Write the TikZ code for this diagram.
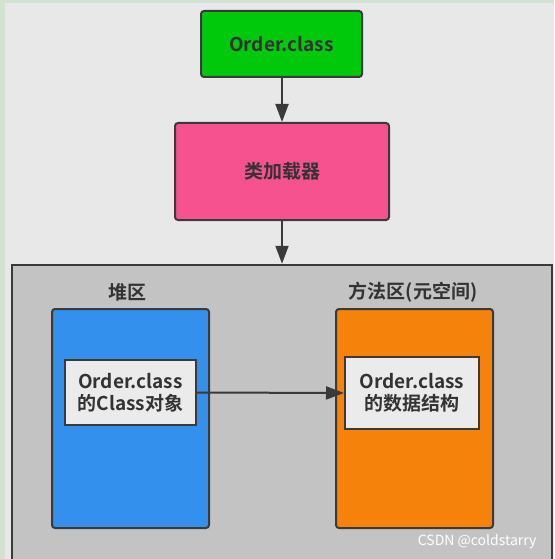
\documentclass[tikz,border=0pt]{standalone}
\usepackage{fontspec}
\setmainfont{Noto Sans CJK SC}[BoldFont={Noto Sans CJK SC Bold}]
\usetikzlibrary{arrows.meta}
\definecolor{bgout}{HTML}{D3E3D1}
\definecolor{bgin}{HTML}{E8E8E8}
\definecolor{edge}{HTML}{3A3A3A}
\definecolor{txt}{HTML}{333333}
\definecolor{cgreen}{HTML}{00C80A}
\definecolor{cpink}{HTML}{F75290}
\definecolor{cgray}{HTML}{C3C3C3}
\definecolor{cblue}{HTML}{3390EC}
\definecolor{corange}{HTML}{F5820A}
\definecolor{cwhite}{HTML}{EBEBEB}
\tikzset{
  box/.style={draw=edge, line width=2pt, rounded corners=3pt, inner sep=0pt, font=\bfseries\fontsize{19}{22}\selectfont, text=txt},
  inbox/.style={draw=edge, line width=2pt, fill=cwhite, inner sep=0pt, align=center, font=\bfseries\fontsize{19}{22}\selectfont, text=txt},
  lbl/.style={font=\bfseries\fontsize{19}{22}\selectfont, text=txt},
  arr/.style={draw=edge, line width=2pt, -{Triangle[width=13pt,length=18pt]}}
}
\begin{document}
\begin{tikzpicture}[x=1pt,y=-1pt]
\useasboundingbox (0,0) rectangle (554,559);
\fill[bgout] (0,0) rectangle (554,559);
\fill[bgin] (5,3) rectangle (554,559);
% container (extends past the bottom edge)
\node[draw=edge, line width=2.5pt, fill=cgray, minimum width=540pt, minimum height=296pt, inner sep=0pt] (cont) at (282,413) {};
% top boxes
\node[box, fill=cgreen, minimum width=161pt, minimum height=66pt] (cls) at (281.5,44) {Order.class};
\node[box, fill=cpink, minimum width=214pt, minimum height=97pt] (loader) at (282,171.5) {类加载器};
% areas
\node[lbl] (heaplbl) at (127,292) {堆区};
\node[lbl] (methlbl) at (413,292) {方法区(元空间)};
\node[box, fill=cblue, minimum width=157pt, minimum height=219pt] (heap) at (130.5,418.5) {};
\node[box, fill=corange, minimum width=157pt, minimum height=219pt] (meth) at (414.5,418.5) {};
\node[inbox, minimum width=131pt, minimum height=65pt] (obj) at (130.5,392.5) {Order.class\\的Class对象};
\node[inbox, minimum width=134pt, minimum height=72pt] (ds) at (412,393) {Order.class\\的数据结构};
% arrows
\draw[arr] (cls.south -| loader.north) -- (loader.north);
\draw[arr] (loader.south) -- (loader.south |- cont.north);
\draw[arr] (obj.east) -- (ds.west);
% watermark
\node[font=\fontsize{14}{16}\selectfont, text=white, anchor=east] (wm) at (540,542) {CSDN @coldstarry};
\end{tikzpicture}
\end{document}
